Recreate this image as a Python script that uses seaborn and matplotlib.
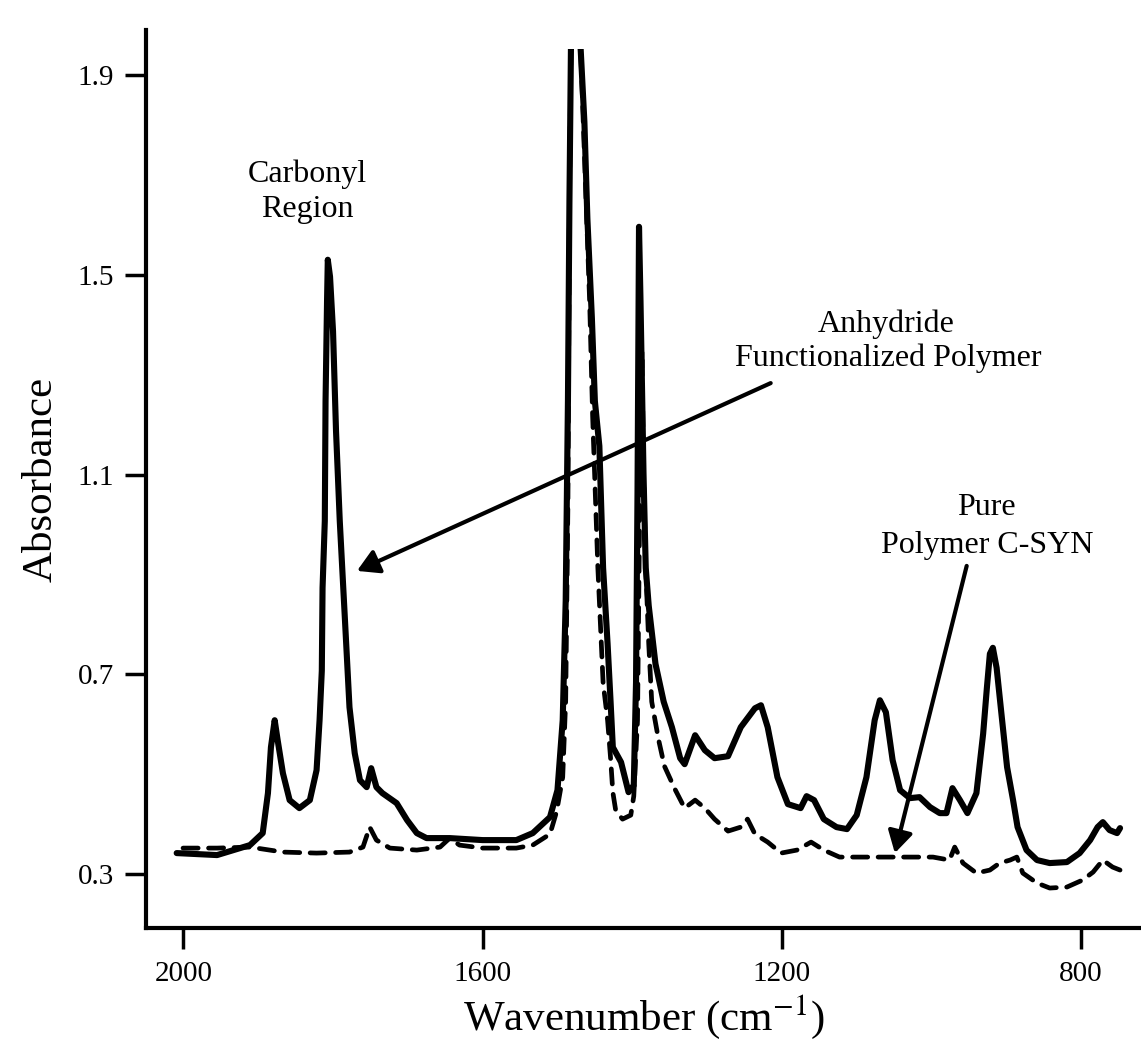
import matplotlib
matplotlib.use("Agg")
import matplotlib.pyplot as plt
from matplotlib.patches import Rectangle
import pandas as pd
import seaborn as sns

# solid trace: anhydride functionalized polymer
wn_func = [2009, 1955, 1911, 1894, 1887, 1883, 1878, 1874, 1867, 1858, 1845, 1831, 1822, 1818,
           1815, 1814, 1811, 1810, 1808, 1807, 1804, 1800, 1796, 1791, 1788, 1784, 1778, 1771,
           1764, 1755, 1749, 1742, 1734, 1715, 1701, 1688, 1675, 1644, 1600, 1555, 1533, 1510,
           1500, 1493, 1489, 1486, 1484, 1482, 1476, 1469, 1464, 1460, 1454, 1450, 1444, 1439,
           1433, 1429, 1426, 1415, 1405, 1398, 1395, 1393, 1391, 1389, 1385, 1382, 1378, 1369,
           1358, 1347, 1336, 1330, 1316, 1303, 1290, 1272, 1255, 1236, 1228, 1219, 1206, 1192,
           1175, 1167, 1157, 1144, 1127, 1113, 1100, 1087, 1076, 1069, 1061, 1052, 1042, 1029,
           1016, 1002, 989, 980, 972, 962, 952, 940, 931, 926, 922, 918, 913, 906, 899, 891,
           885, 873, 859, 842, 819, 802, 788, 778, 771, 762, 752, 748]
abs_func = [0.342, 0.338, 0.358, 0.382, 0.462, 0.554, 0.608, 0.568, 0.502, 0.448, 0.432, 0.448, 0.508, 0.608,
            0.707, 0.873, 1.007, 1.247, 1.447, 1.530, 1.496, 1.387, 1.187, 1.007, 0.921, 0.807, 0.634, 0.542,
            0.488, 0.474, 0.512, 0.474, 0.462, 0.442, 0.408, 0.382, 0.372, 0.372, 0.368, 0.368, 0.382, 0.414,
            0.468, 0.608, 0.847, 1.247, 1.646, 1.952, 2.300, 1.952, 1.806, 1.612, 1.413, 1.247, 1.157, 0.913,
            0.761, 0.645, 0.554, 0.524, 0.464, 0.478, 0.683, 1.065, 1.596, 1.447, 1.103, 0.913, 0.837, 0.721,
            0.645, 0.594, 0.532, 0.520, 0.578, 0.548, 0.532, 0.536, 0.594, 0.632, 0.638, 0.594, 0.494, 0.440,
            0.432, 0.456, 0.448, 0.410, 0.394, 0.390, 0.418, 0.494, 0.608, 0.648, 0.624, 0.528, 0.468, 0.452,
            0.454, 0.434, 0.422, 0.422, 0.472, 0.448, 0.422, 0.462, 0.581, 0.673, 0.741, 0.753, 0.713, 0.613, 0.514, 0.448,
            0.394, 0.348, 0.328, 0.322, 0.324, 0.342, 0.368, 0.394, 0.404, 0.388, 0.382, 0.392]

# dashed trace: pure polymer C-SYN
wn_pure = [2009, 1955, 1911, 1867, 1822, 1778, 1760, 1751, 1742, 1724, 1688, 1657, 1644, 1631,
           1600, 1555, 1533, 1510, 1501, 1493, 1489, 1486, 1484, 1482, 1476, 1469, 1457, 1453,
           1446, 1439, 1433, 1429, 1426, 1422, 1413, 1402, 1398, 1393, 1390, 1387, 1385, 1382,
           1378, 1374, 1365, 1357, 1343, 1330, 1316, 1303, 1290, 1272, 1255, 1246, 1236, 1219,
           1201, 1180, 1161, 1144, 1123, 1090, 1046, 998, 976, 969, 958, 940, 922, 909, 895,
           886, 878, 859, 842, 819, 798, 784, 771, 758, 748]
abs_pure = [0.352, 0.352, 0.354, 0.344, 0.342, 0.344, 0.354, 0.394, 0.368, 0.352, 0.348, 0.354, 0.372, 0.358,
            0.352, 0.352, 0.358, 0.380, 0.426, 0.494, 0.648, 1.047, 1.646, 1.952, 2.300, 1.952, 1.447, 1.217,
            0.913, 0.683, 0.608, 0.532, 0.464, 0.426, 0.410, 0.418, 0.456, 0.608, 1.047, 1.347, 1.107, 0.913,
            0.761, 0.645, 0.570, 0.516, 0.470, 0.432, 0.448, 0.432, 0.410, 0.386, 0.394, 0.410, 0.380, 0.364,
            0.342, 0.348, 0.364, 0.348, 0.334, 0.334, 0.334, 0.334, 0.328, 0.354, 0.322, 0.302, 0.308, 0.322, 0.328,
            0.334, 0.302, 0.282, 0.272, 0.274, 0.288, 0.304, 0.328, 0.314, 0.308]

x_ticks = [2000, 1600, 1200, 800]
y_ticks = [0.3, 0.7, 1.1, 1.5, 1.9]

sns.set_style("ticks")
plt.rcParams["font.family"] = ["Liberation Serif", "DejaVu Serif"]
plt.rcParams["mathtext.fontset"] = "stix"
for k in ["text.color", "axes.labelcolor", "xtick.color", "ytick.color", "axes.edgecolor"]:
    plt.rcParams[k] = "black"

W, H = 1141, 1049
fig = plt.figure(figsize=(W / 100, H / 100), dpi=100)
ax = fig.add_axes([146 / W, 1 - 928 / H, 1 - 146 / W, (928 - 30) / H])

df_func = pd.DataFrame({"wn": wn_func, "A": abs_func})
df_pure = pd.DataFrame({"wn": wn_pure, "A": abs_pure})

sns.lineplot(data=df_pure, x="wn", y="A", ax=ax, color="black", linewidth=3.4, estimator=None)
sns.lineplot(data=df_func, x="wn", y="A", ax=ax, color="black", linewidth=4.4, estimator=None)

ax.set_xlim(2050, 720)
ax.set_ylim(0.192, 1.99)

# the instrument trace is cut off at ~1.95
clip = Rectangle((700, 0), 1400, 1.952, transform=ax.transData)
for i, ln in enumerate(ax.lines):
    ln.set_clip_path(clip)
    ln.set_solid_joinstyle("round")
    if i == 0:
        ln.set_dashes([3.2, 2.2])
        ln.set_dash_capstyle("round")

sns.despine(ax=ax)
for s in ["left", "bottom"]:
    ax.spines[s].set_linewidth(3)
ax.set_xticks(x_ticks)
ax.set_xticklabels([str(t) for t in x_ticks])
ax.set_yticks(y_ticks)
ax.set_yticklabels([f"{t:.1f}" for t in y_ticks])
ax.tick_params(axis="both", direction="out", length=15, width=2.5, labelsize=21, color="black")
ax.tick_params(axis="x", pad=9)
ax.tick_params(axis="y", pad=8)

ax.set_xlabel(r"Wavenumber (cm$^{-1}$)", fontsize=31, labelpad=4)
ax.set_ylabel("Absorbance", fontsize=31, labelpad=12)

# annotations
tkw = dict(fontsize=23, ha="center", va="center")
ax.text(1835, 1.702, "Carbonyl", **tkw)
ax.text(1835, 1.630, "Region", **tkw)
ax.text(1060, 1.401, "Anhydride", **tkw)
ax.text(1058, 1.333, "Functionalized Polymer", **tkw)
ax.text(927, 1.033, "Pure", **tkw)
ax.text(925, 0.957, "Polymer C-SYN", **tkw)

akw = dict(arrowstyle="-|>,head_length=1.3,head_width=0.75", color="black", lw=3, shrinkA=0, shrinkB=0)
ax.annotate("", xy=(1768, 0.907), xytext=(1215, 1.283), arrowprops=akw)
ax.annotate("", xy=(1049, 0.342), xytext=(953, 0.917), arrowprops=akw)

fig.savefig("out.png", dpi=100)
